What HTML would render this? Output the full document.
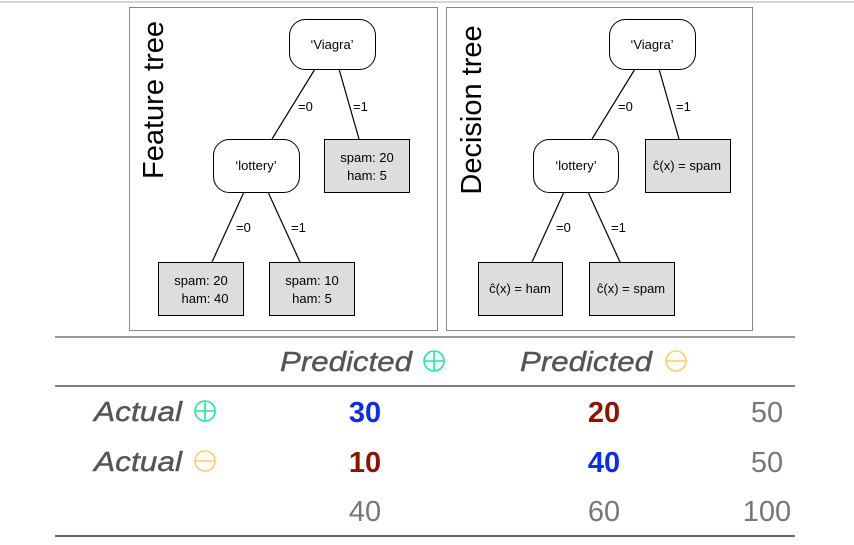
<!DOCTYPE html>
<html><head><style>body{margin:0;background:#fff}svg{display:block}</style></head><body>
<svg width="854" height="545" xmlns="http://www.w3.org/2000/svg" font-family="Liberation Sans, sans-serif">
<line x1="0" y1="2" x2="854" y2="2" stroke="#aaa" stroke-width="1"/>
<rect x="129.5" y="7.5" width="308" height="323" fill="#fff" stroke="#888"/>
<rect x="446.5" y="7.5" width="306" height="323" fill="#fff" stroke="#888"/>
<g stroke="#000" stroke-width="1.2" fill="none">
<line x1="315" y1="69" x2="272" y2="139"/><line x1="339" y1="69" x2="359" y2="139"/>
<line x1="244" y1="192" x2="212" y2="262"/><line x1="268" y1="192" x2="300" y2="262"/>
</g>
<g stroke="#000" stroke-width="1.2" fill="none" transform="translate(320,0)">
<line x1="315" y1="69" x2="272" y2="139"/><line x1="339" y1="69" x2="359" y2="139"/>
<line x1="244" y1="192" x2="212" y2="262"/><line x1="268" y1="192" x2="300" y2="262"/>
</g>
<g font-size="13" fill="#000">
<rect x="289.5" y="19.5" width="86" height="50" rx="16" fill="#fff" stroke="#000"/>
<text x="332" y="49" text-anchor="middle">‘Viagra’</text>
<rect x="213.5" y="139.5" width="86" height="53" rx="16" fill="#fff" stroke="#000"/>
<text x="256" y="170" text-anchor="middle">‘lottery’</text>
<rect x="324.5" y="139.5" width="85" height="53" fill="#ddd" stroke="#000"/>
<text x="367" y="162" text-anchor="middle">spam: 20</text><text x="367" y="180" text-anchor="middle">ham: 5</text>
<rect x="158.5" y="262.5" width="85" height="53" fill="#ddd" stroke="#000"/>
<text x="201" y="285" text-anchor="middle">spam: 20</text><text x="205" y="303" text-anchor="middle">ham: 40</text>
<rect x="269.5" y="262.5" width="85" height="53" fill="#ddd" stroke="#000"/>
<text x="312" y="285" text-anchor="middle">spam: 10</text><text x="312" y="303" text-anchor="middle">ham: 5</text>
<text x="298" y="111">=0</text><text x="353" y="111">=1</text>
<text x="236" y="232">=0</text><text x="291" y="232">=1</text>

<rect x="609.5" y="19.5" width="86" height="50" rx="16" fill="#fff" stroke="#000"/>
<text x="652" y="49" text-anchor="middle">‘Viagra’</text>
<rect x="533.5" y="139.5" width="85" height="53" rx="16" fill="#fff" stroke="#000"/>
<text x="576" y="170" text-anchor="middle">‘lottery’</text>
<rect x="645.5" y="139.5" width="85" height="53" fill="#ddd" stroke="#000"/>
<text x="687" y="170" text-anchor="middle">ĉ(x) = spam</text>
<rect x="478.5" y="262.5" width="84" height="53" fill="#ddd" stroke="#000"/>
<text x="520" y="293" text-anchor="middle">ĉ(x) = ham</text>
<rect x="589.5" y="262.5" width="85" height="53" fill="#ddd" stroke="#000"/>
<text x="631" y="293" text-anchor="middle">ĉ(x) = spam</text>
<text x="618" y="111">=0</text><text x="676" y="111">=1</text>
<text x="556" y="232">=0</text><text x="611" y="232">=1</text>
</g>
<text transform="translate(163,100) rotate(-90)" text-anchor="middle" font-size="29" fill="#000">Feature tree</text>
<text transform="translate(481,110) rotate(-90)" text-anchor="middle" font-size="29" fill="#000">Decision tree</text>

<line x1="55" y1="337" x2="795" y2="337" stroke="#777" stroke-width="1.5"/>
<line x1="55" y1="386" x2="795" y2="386" stroke="#000" stroke-width="1"/>
<line x1="55" y1="536" x2="795" y2="536" stroke="#666" stroke-width="2"/>
<g font-size="28" font-style="italic" fill="#555" stroke="#555" stroke-width="0.4">
<text x="280" y="371" textLength="132" lengthAdjust="spacingAndGlyphs">Predicted</text>
<text x="520" y="371" textLength="132" lengthAdjust="spacingAndGlyphs">Predicted</text>
<text x="94" y="421" textLength="88" lengthAdjust="spacingAndGlyphs">Actual</text>
<text x="94" y="471" textLength="88" lengthAdjust="spacingAndGlyphs">Actual</text>
</g>
<g fill="none" stroke-width="1.6">
<g stroke="#1de9a0"><circle cx="434" cy="361" r="10"/><line x1="424" y1="361" x2="444" y2="361"/><line x1="434" y1="351" x2="434" y2="371"/>
<circle cx="205" cy="411" r="10"/><line x1="195" y1="411" x2="215" y2="411"/><line x1="205" y1="401" x2="205" y2="421"/></g>
<g stroke="#ffcc66"><circle cx="676" cy="361" r="10"/><line x1="666" y1="361" x2="686" y2="361"/>
<circle cx="205" cy="461" r="10"/><line x1="195" y1="461" x2="215" y2="461"/></g>
</g>
<g font-size="29" text-anchor="middle">
<text x="365" y="422" fill="#0a2cf0" font-weight="bold">30</text>
<text x="604" y="422" fill="#8b1500" font-weight="bold">20</text>
<text x="767" y="422" fill="#777">50</text>
<text x="365" y="472" fill="#8b1500" font-weight="bold">10</text>
<text x="604" y="472" fill="#0a2cf0" font-weight="bold">40</text>
<text x="767" y="472" fill="#777">50</text>
<text x="365" y="521" fill="#777">40</text>
<text x="604" y="521" fill="#777">60</text>
<text x="767" y="521" fill="#777">100</text>
</g>
</svg>
</body></html>
